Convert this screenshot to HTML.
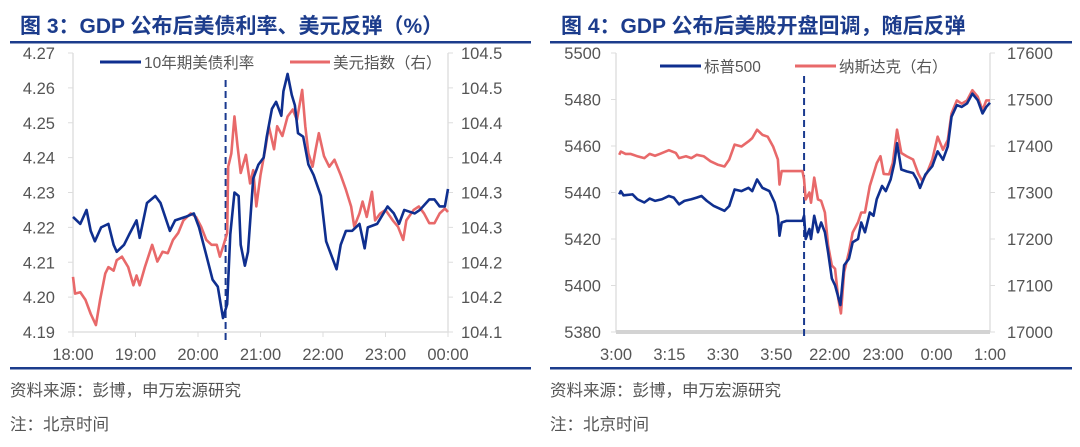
<!DOCTYPE html>
<html><head><meta charset="utf-8">
<style>
html,body{margin:0;padding:0;background:#fff;}
body{width:1080px;height:442px;overflow:hidden;font-family:"Liberation Sans","Noto Sans CJK SC",sans-serif;}
svg text{font-family:"Liberation Sans","Noto Sans CJK SC",sans-serif;}
</style></head>
<body>
<svg id="svg" width="1080" height="442" xmlns="http://www.w3.org/2000/svg">
<g>
<text x="20" y="33" font-size="21" font-weight="bold" fill="#1c3c8c">图 3：GDP 公布后美债利率、美元反弹（%）</text>
<rect x="10" y="41" width="521" height="2.5" fill="#1c3c8c"/>
<rect x="10" y="367" width="521" height="2.5" fill="#1c3c8c"/>
<text x="10" y="396" font-size="16.5" fill="#555">资料来源：彭博，申万宏源研究</text>
<text x="10" y="430" font-size="16.5" fill="#555">注：北京时间</text>
</g>
<g>
<text x="561" y="33" font-size="21" font-weight="bold" fill="#1c3c8c">图 4：GDP 公布后美股开盘回调，随后反弹</text>
<rect x="550" y="41" width="522" height="2.5" fill="#1c3c8c"/>
<rect x="550" y="367" width="522" height="2.5" fill="#1c3c8c"/>
<text x="550" y="396" font-size="16.5" fill="#555">资料来源：彭博，申万宏源研究</text>
<text x="550" y="430" font-size="16.5" fill="#555">注：北京时间</text>
</g>
</svg>
<script>
// ---------- Left chart data ----------
const yieldMin=[0,7,13,17,21,27,34,39,42,49,54,61,64,71,79,84,93,98,108,116,121,128,134,139,144,148,151,155,159,161,165,168,173,178,183,186,191,195,200,202,206,210,213,216,221,226,231,238,243,248,253,257,262,268,275,280,283,292,298,302,308,313,318,328,333,342,347,352,357,360];
const yieldVal=[4.223,4.221,4.225,4.219,4.216,4.220,4.221,4.215,4.213,4.215,4.218,4.222,4.217,4.227,4.229,4.227,4.219,4.222,4.223,4.224,4.220,4.212,4.205,4.203,4.194,4.198,4.218,4.230,4.229,4.215,4.209,4.213,4.234,4.238,4.240,4.246,4.254,4.256,4.252,4.259,4.264,4.258,4.255,4.247,4.246,4.238,4.235,4.229,4.216,4.212,4.208,4.215,4.219,4.219,4.221,4.214,4.220,4.221,4.224,4.226,4.224,4.221,4.225,4.224,4.225,4.228,4.228,4.226,4.226,4.231];
const dxyMin=[0,2,7,12,17,22,26,31,34,39,42,47,53,58,61,64,69,76,81,86,91,96,101,106,113,118,123,128,133,138,141,144,148,149,152,155,158,161,166,170,173,176,180,185,188,193,196,201,206,211,215,220,223,226,230,233,236,241,246,251,257,262,267,270,275,278,282,287,290,295,300,307,312,317,320,327,332,337,342,347,352,357,360];
const dxyVal=[104.179,104.155,104.157,104.146,104.126,104.110,104.146,104.184,104.193,104.188,104.203,104.208,104.193,104.167,104.181,104.167,104.193,104.225,104.201,104.215,104.213,104.232,104.242,104.260,104.270,104.265,104.251,104.232,104.225,104.225,104.208,104.222,104.242,104.337,104.356,104.409,104.366,104.328,104.354,104.313,104.332,104.280,104.325,104.366,104.395,104.362,104.395,104.381,104.409,104.419,104.404,104.447,104.395,104.356,104.337,104.362,104.385,104.352,104.337,104.347,104.325,104.304,104.280,104.251,104.270,104.287,104.265,104.301,104.260,104.270,104.275,104.260,104.251,104.232,104.260,104.275,104.280,104.270,104.256,104.256,104.270,104.277,104.272];
const leftTicks=["4.19","4.20","4.21","4.22","4.23","4.24","4.25","4.26","4.27"];
const leftRTicks=["104.1","104.2","104.2","104.3","104.3","104.4","104.4","104.5","104.5"];
const leftXTicks=["18:00","19:00","20:00","21:00","22:00","23:00","00:00"];
const leftEvent=146.5;
// ---------- Right chart data ----------
const spxU=[0.06,0.09,0.14,0.31,0.40,0.53,0.63,0.73,0.86,0.99,1.08,1.18,1.28,1.41,1.51,1.60,1.70,1.83,2.03,2.12,2.22,2.35,2.48,2.55,2.64,2.74,2.87,2.97,3.03,3.06,3.10,3.19,3.49,3.52,3.55,3.62,3.65,3.71,3.78,3.84,3.91,3.97,4.04,4.10,4.20,4.27,4.36,4.43,4.53,4.59,4.66,4.75,4.82,4.88,4.98,5.05,5.14,5.21,5.26,5.34,5.44,5.56,5.63,5.69,5.79,5.92,6.02,6.12,6.21,6.28,6.38,6.47,6.57,6.67,6.77,6.86,6.93,7.0];
const spxVal=[5439.2,5440.6,5438.8,5439.2,5437.1,5435.7,5437.4,5436.4,5437.1,5438.5,5437.8,5434.9,5436.4,5437.1,5437.8,5438.5,5436.4,5434.2,5432.1,5434.2,5441.3,5440.6,5442.0,5440.6,5445.6,5442.0,5440.6,5435.7,5430.0,5421.4,5427.1,5427.8,5427.8,5430.0,5420.0,5424.3,5420.0,5430.0,5422.9,5427.1,5422.9,5414.3,5403.0,5400.1,5391.6,5408.7,5411.5,5418.6,5420.0,5427.1,5422.9,5431.4,5430.0,5437.1,5442.8,5440.6,5445.6,5452.7,5461.2,5449.9,5449.1,5448.4,5445.6,5442.0,5447.7,5451.3,5457.7,5454.1,5459.8,5472.6,5477.6,5476.8,5478.3,5482.5,5479.7,5474.0,5476.8,5478.6];
const ndxU=[0.06,0.09,0.18,0.27,0.40,0.53,0.63,0.73,0.82,0.99,1.12,1.18,1.31,1.41,1.51,1.64,1.77,1.90,2.03,2.12,2.22,2.35,2.48,2.55,2.64,2.74,2.84,2.94,3.03,3.06,3.10,3.19,3.49,3.52,3.55,3.62,3.65,3.71,3.78,3.84,3.91,3.97,4.04,4.10,4.16,4.21,4.27,4.36,4.43,4.53,4.59,4.66,4.75,4.82,4.88,4.95,5.01,5.11,5.18,5.26,5.34,5.44,5.56,5.66,5.73,5.82,5.92,6.02,6.12,6.21,6.28,6.38,6.47,6.57,6.67,6.77,6.86,6.93,7.0];
const ndxVal=[17381,17388,17383,17383,17378,17374,17383,17379,17383,17391,17385,17374,17378,17374,17381,17378,17367,17360,17356,17371,17403,17399,17410,17417,17435,17424,17420,17399,17371,17317,17346,17346,17346,17328,17285,17300,17278,17332,17285,17282,17257,17186,17143,17136,17072,17040,17129,17172,17214,17236,17257,17257,17314,17340,17363,17378,17340,17339,17363,17435,17385,17378,17371,17340,17325,17342,17371,17420,17392,17413,17470,17498,17491,17498,17520,17506,17477,17498,17498];
const rightTicks=["5380","5400","5420","5440","5460","5480","5500"];
const rightRTicks=["17000","17100","17200","17300","17400","17500","17600"];
const rightXTicks=["3:00","3:15","3:30","3:50","22:00","23:00","0:00","1:00"];
const rightEvent=3.52;

const NS="http://www.w3.org/2000/svg";
const svg=document.getElementById('svg');
function mk(tag,attrs,parent){const e=document.createElementNS(NS,tag);for(const k in attrs)e.setAttribute(k,attrs[k]);(parent||svg).appendChild(e);return e;}
function txt(s,attrs,parent){const e=mk('text',attrs,parent);e.textContent=s;return e;}

// ----- Left chart -----
(function(){
 const g=mk('g',{});
 
 
 const X0=73,X1=448,Y0=332,Y1=53;
 const xs=m=>X0+(m/360)*(X1-X0);
 const yL=v=>Y0-(v-4.19)/0.08*(Y0-Y1);
 const yR=v=>Y0-(v-104.1)/0.4*(Y0-Y1);
 const ax=mk('path',{d:`M${X0},${Y1}V${Y0}H${X1}V${Y1}`,fill:'none',stroke:'#e0e0e0','stroke-width':1.5},g);
 
 
 leftTicks.forEach((t,i)=>{const y=Y0-i*(Y0-Y1)/(leftTicks.length-1);
  mk('line',{x1:X0-5,x2:X0,y1:y,y2:y,stroke:'#ddd'},g);
  const e=txt(t,{x:55,y:y+6,'text-anchor':'end','font-size':16.5,fill:'#555'},g);
  
  });
 leftRTicks.forEach((t,i)=>{const y=Y0-i*(Y0-Y1)/(leftRTicks.length-1);
  mk('line',{x1:X1,x2:X1+5,y1:y,y2:y,stroke:'#ddd'},g);
  const e=txt(t,{x:461,y:y+6,'font-size':16.5,fill:'#555'},g);
  
  });
 leftXTicks.forEach((t,i)=>{const x=xs(i*60);
  mk('line',{x1:x,x2:x,y1:Y0,y2:Y0+5,stroke:'#ddd'},g);
  const e=txt(t,{x:x,y:360,'text-anchor':'middle','font-size':16.5,fill:'#555'},g);
  
  });
 const ev=mk('line',{x1:xs(leftEvent),x2:xs(leftEvent),y1:80,y2:Y0+8,stroke:'#1a3a8f','stroke-width':2,'stroke-dasharray':'7,4'},g);
 
 
 const pr=mk('polyline',{points:dxyMin.map((m,i)=>xs(m)+','+yR(dxyVal[i])).join(' '),fill:'none',stroke:'#e8696a','stroke-width':2.6,'stroke-linejoin':'round'},g);
 
 
 const pb=mk('polyline',{points:yieldMin.map((m,i)=>xs(m)+','+yL(yieldVal[i])).join(' '),fill:'none',stroke:'#0f2f8f','stroke-width':2.6,'stroke-linejoin':'round'},g);
 
 
 const lg=mk('g',{},g);
 
 
 mk('line',{x1:100,x2:141,y1:62,y2:62,stroke:'#0f2f8f','stroke-width':3},lg);
 txt('10年期美债利率',{x:144,y:68,'font-size':15.5,fill:'#555'},lg);
 mk('line',{x1:290,x2:330,y1:62,y2:62,stroke:'#e8696a','stroke-width':3},lg);
 txt('美元指数（右）',{x:333,y:68,'font-size':15.5,fill:'#555'},lg);
})();

// ----- Right chart -----
(function(){
 const g=mk('g',{});
 
 
 const X0=616,X1=990,Y0=332,Y1=53;
 const xs=u=>X0+(u/7)*(X1-X0);
 const yL=v=>Y0-(v-5380)/120*(Y0-Y1);
 const yR=v=>Y0-(v-17000)/600*(Y0-Y1);
 mk('path',{d:`M${X0},${Y1}V${Y0}M${X1},${Y1}V${Y0}`,fill:'none',stroke:'#e0e0e0','stroke-width':1.5},g);
 const base=mk('line',{x1:X0,x2:X1,y1:Y0,y2:Y0,stroke:'#d3d3d3','stroke-width':4},g);
 
 
 rightTicks.forEach((t,i)=>{const y=Y0-i*(Y0-Y1)/(rightTicks.length-1);
  mk('line',{x1:X0-5,x2:X0,y1:y,y2:y,stroke:'#ddd'},g);
  const e=txt(t,{x:601,y:y+6,'text-anchor':'end','font-size':16.5,fill:'#555'},g);
  
  });
 rightRTicks.forEach((t,i)=>{const y=Y0-i*(Y0-Y1)/(rightRTicks.length-1);
  mk('line',{x1:X1,x2:X1+5,y1:y,y2:y,stroke:'#ddd'},g);
  const e=txt(t,{x:1007,y:y+6,'font-size':16.5,fill:'#555'},g);
  
  });
 rightXTicks.forEach((t,i)=>{const x=xs(i);
  const e=txt(t,{x:x,y:360,'text-anchor':'middle','font-size':16.5,fill:'#555'},g);
  
  });
 const ev=mk('line',{x1:xs(rightEvent),x2:xs(rightEvent),y1:76,y2:Y0+8,stroke:'#1a3a8f','stroke-width':2,'stroke-dasharray':'7,4'},g);
 
 
 const pr=mk('polyline',{points:ndxU.map((u,i)=>xs(u)+','+yR(ndxVal[i])).join(' '),fill:'none',stroke:'#e8696a','stroke-width':2.6,'stroke-linejoin':'round'},g);
 
 
 const pb=mk('polyline',{points:spxU.map((u,i)=>xs(u)+','+yL(spxVal[i])).join(' '),fill:'none',stroke:'#0f2f8f','stroke-width':2.6,'stroke-linejoin':'round'},g);
 
 
 const lg=mk('g',{},g);
 
 
 mk('line',{x1:660,x2:701,y1:66,y2:66,stroke:'#0f2f8f','stroke-width':3},lg);
 txt('标普500',{x:704,y:72,'font-size':15.5,fill:'#555'},lg);
 mk('line',{x1:795,x2:836,y1:66,y2:66,stroke:'#e8696a','stroke-width':3},lg);
 txt('纳斯达克（右）',{x:839,y:72,'font-size':15.5,fill:'#555'},lg);
})();
</script>
</body></html>
